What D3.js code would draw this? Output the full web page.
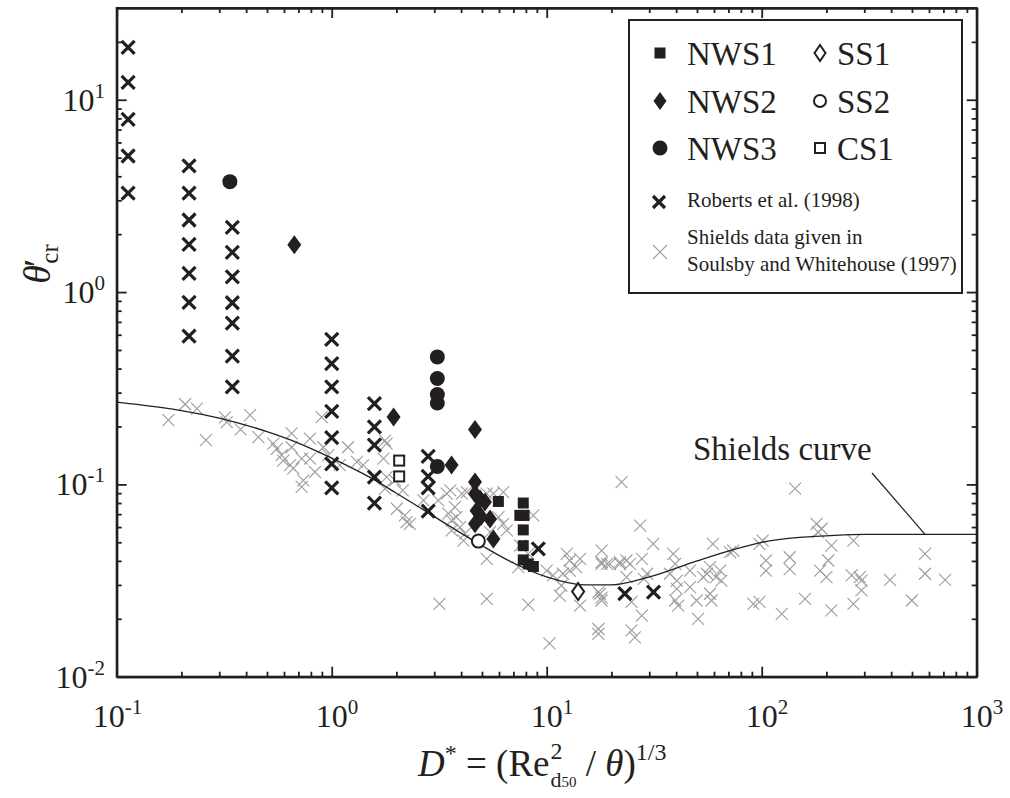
<!DOCTYPE html>
<html><head><meta charset="utf-8">
<script src="https://cdn.jsdelivr.net/npm/d3@7"></script>
<style>
body{margin:0;background:#fff}
text{font-family:"Liberation Serif","Times New Roman",serif;fill:#231f20}
</style>
</head><body>
<svg id="c" width="1010" height="798"></svg>
<script>
// ---------------- data (D*, theta'cr) ----------------
const xTickExps = [-1, 0, 1, 2, 3];
const yTickExps = [-2, -1, 0, 1];

const shieldsCurve = [[0.1,0.268],[0.2,0.242],[0.3,0.221],[0.5,0.188],[0.7,0.164],[1,0.137],[1.5,0.109],
  [2,0.090],[3,0.068],[5,0.048],[7,0.039],[10,0.033],[15,0.030],[20,0.030],[30,0.033],[50,0.040],
  [70,0.045],[100,0.050],[150,0.053],[200,0.054],[300,0.055],[1000,0.055]];

const nws1 = [[5.96,0.0815],[7.78,0.080],[7.5,0.069],[7.85,0.069],[7.78,0.058],[7.78,0.048],[7.78,0.0405],[8.2,0.0386],[8.67,0.0374]];
const nws2 = [[0.67,1.76],[1.94,0.224],[4.64,0.193],[3.61,0.126],[4.64,0.103],[4.64,0.0895],[4.9,0.084],[5.16,0.081],
  [4.72,0.073],[4.95,0.068],[5.45,0.066],[4.64,0.0624],[5.65,0.052]];
const nws3 = [[0.336,3.75],[3.1,0.46],[3.1,0.355],[3.1,0.293],[3.1,0.265],[3.1,0.124]];
const ss1 = [[14.0,0.0277]];
const ss2 = [[4.81,0.0507]];
const cs1 = [[2.06,0.133],[2.06,0.110]];

const roberts = [
  [0.113,18.7],[0.113,12.3],[0.113,7.9],[0.113,5.1],[0.113,3.27],
  [0.217,4.53],[0.217,3.27],[0.217,2.37],[0.217,1.77],[0.217,1.25],[0.217,0.884],[0.217,0.59],
  [0.345,2.17],[0.345,1.61],[0.345,1.20],[0.345,0.88],[0.345,0.69],[0.345,0.464],[0.345,0.321],
  [1.0,0.567],[1.0,0.425],[1.0,0.321],[1.0,0.240],[1.0,0.175],[1.0,0.128],[1.0,0.096],
  [1.58,0.263],[1.58,0.199],[1.58,0.160],[1.58,0.109],[1.58,0.080],
  [2.81,0.140],[2.81,0.110],[2.81,0.096],[2.81,0.0726],
  [9.14,0.0462],[23.1,0.027],[31.4,0.0275]];

const shieldsData = [
  [0.174,0.216],[0.208,0.261],[0.236,0.248],[0.260,0.170],[0.319,0.223],[0.325,0.211],[0.377,0.193],[0.417,0.229],
  [0.456,0.176],[0.535,0.163],[0.555,0.153],[0.585,0.142],[0.595,0.133],[0.651,0.184],[0.651,0.156],[0.640,0.126],
  [0.663,0.121],[0.725,0.136],[0.738,0.105],[0.725,0.097],[0.793,0.173],[0.793,0.136],[0.836,0.116],[0.898,0.224],
  [0.914,0.156],[0.964,0.142],[1.0,0.128],[1.09,0.126],[1.19,0.156],[1.31,0.131],[1.40,0.126],[1.80,0.163],
  [1.74,0.136],[1.80,0.109],[1.77,0.095],[2.01,0.0747],[2.19,0.069],[2.23,0.0636],[2.14,0.093],[1.97,0.105],
  [1.77,0.169],[2.31,0.0624],[2.67,0.0826],[3.13,0.0826],[3.43,0.0895],[3.56,0.093],[3.49,0.0704],[3.61,0.065],
  [3.74,0.0762],[3.80,0.0676],[3.61,0.0576],[3.95,0.060],[4.17,0.0554],[4.10,0.051],[4.03,0.0895],[4.25,0.0912],
  [5.26,0.0895],[5.65,0.0895],[6.28,0.0912],[5.96,0.0676],[6.28,0.0624],[6.52,0.0576],[5.45,0.0565],[5.26,0.041],
  [5.26,0.0254],[3.17,0.0239],[8.21,0.0237],[8.66,0.069],[7.38,0.0371],[8.21,0.0435],[7.52,0.048],[10.0,0.0356],
  [10.7,0.0336],[11.7,0.0298],[11.5,0.0264],[12.4,0.0435],[12.8,0.0402],[14.3,0.041],[13.7,0.0371],[12.8,0.0356],
  [18.0,0.0453],[18.0,0.0386],[19.7,0.0386],[21.9,0.0386],[17.7,0.027],[18.0,0.0249],[14.3,0.0234],[17.4,0.0177],
  [22.3,0.1028],[23.5,0.0329],[24.4,0.0386],[27.2,0.0611],[31.3,0.0491],[11.9,0.0343],[18.0,0.0394],[19.1,0.0386],
  [21.9,0.0394],[23.5,0.0402],[17.4,0.0275],[18.0,0.0258],[17.4,0.0167],[24.8,0.0174],[25.7,0.016],[27.7,0.0208],
  [24.8,0.0245],[27.7,0.041],[29.3,0.0343],[28.3,0.0323],[38.8,0.0435],[39.6,0.0386],[37.4,0.0343],[40.3,0.0316],
  [40.3,0.0286],[39.6,0.0249],[40.9,0.0234],[46.4,0.0356],[46.4,0.0292],[49.8,0.0249],[50.6,0.020],[53.5,0.0329],
  [55.6,0.0343],[57.5,0.0371],[58.4,0.0249],[57.5,0.027],[59.3,0.0491],[61.3,0.0329],[64.9,0.0316],[64.0,0.0356],
  [71.2,0.0444],[73.7,0.0453],[91.4,0.0239],[97.6,0.0245],[97.6,0.0491],[101,0.051],[104.7,0.0402],[104.7,0.0356],
  [124,0.0212],[135,0.0418],[135,0.0363],[143,0.095],[159,0.0254],[180,0.0624],[190,0.0588],[183,0.0565],
  [187,0.0356],[200,0.0329],[204,0.0402],[211,0.048],[211,0.0221],[267,0.051],[262,0.0336],[286,0.0329],
  [291,0.0316],[291,0.0281],[267,0.0239],[395,0.0319],[499,0.0249],[575,0.0435],[575,0.0343],[713,0.0319],
  [10.3,0.0149]];

// ---------------- layout ----------------
const X0 = 116.7, X1 = 976.7, Y0 = 676.7, Y1 = 8;
const INK = "#231f20", GRAY = "#9c9c9c";
const svg = d3.select("#c");
const x = d3.scaleLog().domain([0.1, 1000]).range([X0, X1]);
const y = d3.scaleLog().domain([0.01, 30]).range([Y0, Y1]);

function ticksFor(scale, exps) {
  const lo = Math.min(...exps), hi = Math.max(...exps);
  const d = scale.domain(), out = [];
  for (let e = lo; e <= hi; e++) for (let m = 2; m <= 9; m++) {
    const v = m * Math.pow(10, e);
    if (v > d[0] * 1.0001 && v < d[1] * 0.9999) out.push(v);
  }
  return out;
}
const xMajor = xTickExps.map(e => Math.pow(10, e));
const yMajor = yTickExps.map(e => Math.pow(10, e));
const xMinor = ticksFor(x, xTickExps);
const yMinor = ticksFor(y, yTickExps);

function styleAxis(g) {
  g.selectAll("path").attr("stroke", INK).attr("stroke-width", 2);
  g.selectAll("line").attr("stroke", INK).attr("stroke-width", 1.8);
  g.selectAll("text").remove();
}
function addAxis(gen, tr, vals, size) {
  svg.append("g").attr("transform", tr)
    .call(gen.tickValues(vals).tickSize(-size).tickSizeOuter(0).tickFormat(""))
    .call(styleAxis);
}
addAxis(d3.axisBottom(x), `translate(0,${Y0})`, xMinor, 5);
addAxis(d3.axisBottom(x), `translate(0,${Y0})`, xMajor, 10);
addAxis(d3.axisTop(x), `translate(0,${Y1})`, xMinor, 5);
addAxis(d3.axisTop(x), `translate(0,${Y1})`, xMajor, 10);
addAxis(d3.axisLeft(y), `translate(${X0},0)`, yMinor, 5);
addAxis(d3.axisLeft(y), `translate(${X0},0)`, yMajor, 10);
addAxis(d3.axisRight(y), `translate(${X1},0)`, yMinor, 5);
addAxis(d3.axisRight(y), `translate(${X1},0)`, yMajor, 10);
svg.append("rect").attr("x", X0).attr("y", Y1).attr("width", X1 - X0).attr("height", Y0 - Y1)
  .attr("fill", "none").attr("stroke", INK).attr("stroke-width", 2);

// tick labels
xTickExps.forEach(e => {
  const t = svg.append("text").attr("x", x(Math.pow(10, e)) - 16 - (e < 0 ? 8 : 0)).attr("y", 727).attr("font-size", 32);
  t.append("tspan").text("10");
  t.append("tspan").attr("dy", -13).attr("font-size", 21).text(String(e));
});
yTickExps.forEach(e => {
  const t = svg.append("text").attr("x", 105).attr("y", y(Math.pow(10, e)) + 11)
    .attr("font-size", 32).attr("text-anchor", "end");
  t.append("tspan").text("10");
  t.append("tspan").attr("dy", -13).attr("font-size", 21).text(String(e));
});

// axis titles
const yt = svg.append("text").attr("transform", "translate(50,264) rotate(-90)")
  .attr("text-anchor", "middle").attr("font-size", 38);
yt.append("tspan").attr("font-style", "italic").text("θ");
yt.append("tspan").attr("dx", -2).text("′");
yt.append("tspan").attr("font-size", 25).attr("dy", 8).attr("dx", -5).text("cr");

const xt = svg.append("text").attr("x", 418).attr("y", 776).attr("font-size", 37);
xt.append("tspan").attr("font-style", "italic").text("D");
xt.append("tspan").attr("font-size", 24).attr("dy", -15).text("*");
xt.append("tspan").attr("dy", 15).text(" = (Re");
xt.append("tspan").attr("font-size", 24).attr("dy", -17).attr("dx", 1).text("2");
xt.append("tspan").attr("font-size", 22).attr("dy", 28).attr("dx", -12).text("d");
xt.append("tspan").attr("font-size", 15).attr("dy", 0).text("50");
xt.append("tspan").attr("dy", -11).text(" / ");
xt.append("tspan").attr("font-style", "italic").text("θ");
xt.append("tspan").text(")");
xt.append("tspan").attr("font-size", 24).attr("dy", -16).text("1/3");

// ---------------- marks ----------------
const plot = svg.append("g");
const xPath = s => `M${-s},${-s}L${s},${s}M${-s},${s}L${s},${-s}`;
const diamond = (w, h) => `M0,${-h}L${w},0L0,${h}L${-w},0Z`;
const pos = d => `translate(${x(d[0])},${y(d[1])})`;

plot.selectAll(".sh").data(shieldsData).join("path").attr("class", "sh")
  .attr("transform", pos).attr("d", xPath(6)).attr("stroke", GRAY).attr("stroke-width", 1.1).attr("fill", "none");

const line = d3.line().x(d => x(d[0])).y(d => y(d[1])).curve(d3.curveMonotoneX);
plot.append("path").datum(shieldsCurve).attr("d", line).attr("fill", "none").attr("stroke", INK).attr("stroke-width", 1.3);

plot.selectAll(".rb").data(roberts).join("path").attr("class", "rb")
  .attr("transform", pos).attr("d", xPath(6.5)).attr("stroke", INK).attr("stroke-width", 3.2).attr("fill", "none");

plot.selectAll(".c3").data(nws3).join("circle").attr("class", "c3")
  .attr("cx", d => x(d[0])).attr("cy", d => y(d[1])).attr("r", 7.5).attr("fill", INK);
plot.selectAll(".d2").data(nws2).join("path").attr("class", "d2")
  .attr("transform", pos).attr("d", diamond(7, 9.5)).attr("fill", INK);
plot.selectAll(".s1").data(nws1).join("rect").attr("class", "s1")
  .attr("x", d => x(d[0]) - 5.5).attr("y", d => y(d[1]) - 5.5).attr("width", 11).attr("height", 11).attr("fill", INK);
plot.selectAll(".cs").data(cs1).join("rect").attr("class", "cs")
  .attr("x", d => x(d[0]) - 5).attr("y", d => y(d[1]) - 5).attr("width", 10).attr("height", 10)
  .attr("fill", "#fff").attr("stroke", INK).attr("stroke-width", 2);
plot.selectAll(".ss2").data(ss2).join("circle").attr("class", "ss2")
  .attr("cx", d => x(d[0])).attr("cy", d => y(d[1])).attr("r", 6.5).attr("fill", "#fff").attr("stroke", INK).attr("stroke-width", 2);
plot.selectAll(".ss1").data(ss1).join("path").attr("class", "ss1")
  .attr("transform", pos).attr("d", diamond(6, 8.5)).attr("fill", "#fff").attr("stroke", INK).attr("stroke-width", 2);

// Shields curve label
svg.append("text").attr("x", 693).attr("y", 460).attr("font-size", 33).text("Shields curve");
svg.append("line").attr("x1", 872).attr("y1", 473).attr("x2", x(575)).attr("y2", y(0.055))
  .attr("stroke", INK).attr("stroke-width", 1.2);

// ---------------- legend ----------------
const lg = svg.append("g");
lg.append("rect").attr("x", 629).attr("y", 20).attr("width", 333).attr("height", 273)
  .attr("fill", "#fff").attr("stroke", INK).attr("stroke-width", 2);
const bigRows = [
  {label: "NWS1", x: 660, y: 53, tx: 687, ty: 65, kind: "sq"},
  {label: "NWS2", x: 660, y: 101, tx: 687, ty: 113, kind: "dia"},
  {label: "NWS3", x: 660, y: 148, tx: 687, ty: 160, kind: "cir"},
  {label: "SS1", x: 820, y: 53, tx: 837, ty: 65, kind: "odia"},
  {label: "SS2", x: 820, y: 101, tx: 837, ty: 113, kind: "ocir"},
  {label: "CS1", x: 820, y: 148, tx: 837, ty: 160, kind: "osq"}];
bigRows.forEach(r => {
  const g = lg.append("g").attr("transform", `translate(${r.x},${r.y})`);
  if (r.kind === "sq") g.append("rect").attr("x", -5.5).attr("y", -5.5).attr("width", 11).attr("height", 11).attr("fill", INK);
  if (r.kind === "dia") g.append("path").attr("d", diamond(6.5, 9)).attr("fill", INK);
  if (r.kind === "cir") g.append("circle").attr("r", 7.5).attr("fill", INK);
  if (r.kind === "odia") g.append("path").attr("d", diamond(5.5, 8)).attr("fill", "#fff").attr("stroke", INK).attr("stroke-width", 2);
  if (r.kind === "ocir") g.append("circle").attr("r", 6).attr("fill", "#fff").attr("stroke", INK).attr("stroke-width", 2);
  if (r.kind === "osq") g.append("rect").attr("x", -5).attr("y", -5).attr("width", 10).attr("height", 10).attr("fill", "#fff").attr("stroke", INK).attr("stroke-width", 2);
  lg.append("text").attr("x", r.tx).attr("y", r.ty).attr("font-size", 33).text(r.label);
});
lg.append("path").attr("transform", "translate(659,202)").attr("d", xPath(6)).attr("stroke", INK).attr("stroke-width", 3.2);
lg.append("text").attr("x", 687).attr("y", 207).attr("font-size", 21).text("Roberts et al. (1998)");
lg.append("path").attr("transform", "translate(660,252)").attr("d", xPath(7)).attr("stroke", GRAY).attr("stroke-width", 1.1);
lg.append("text").attr("x", 687).attr("y", 244).attr("font-size", 21).text("Shields data given in");
lg.append("text").attr("x", 687).attr("y", 271).attr("font-size", 21).text("Soulsby and Whitehouse (1997)");
</script>
</body></html>
